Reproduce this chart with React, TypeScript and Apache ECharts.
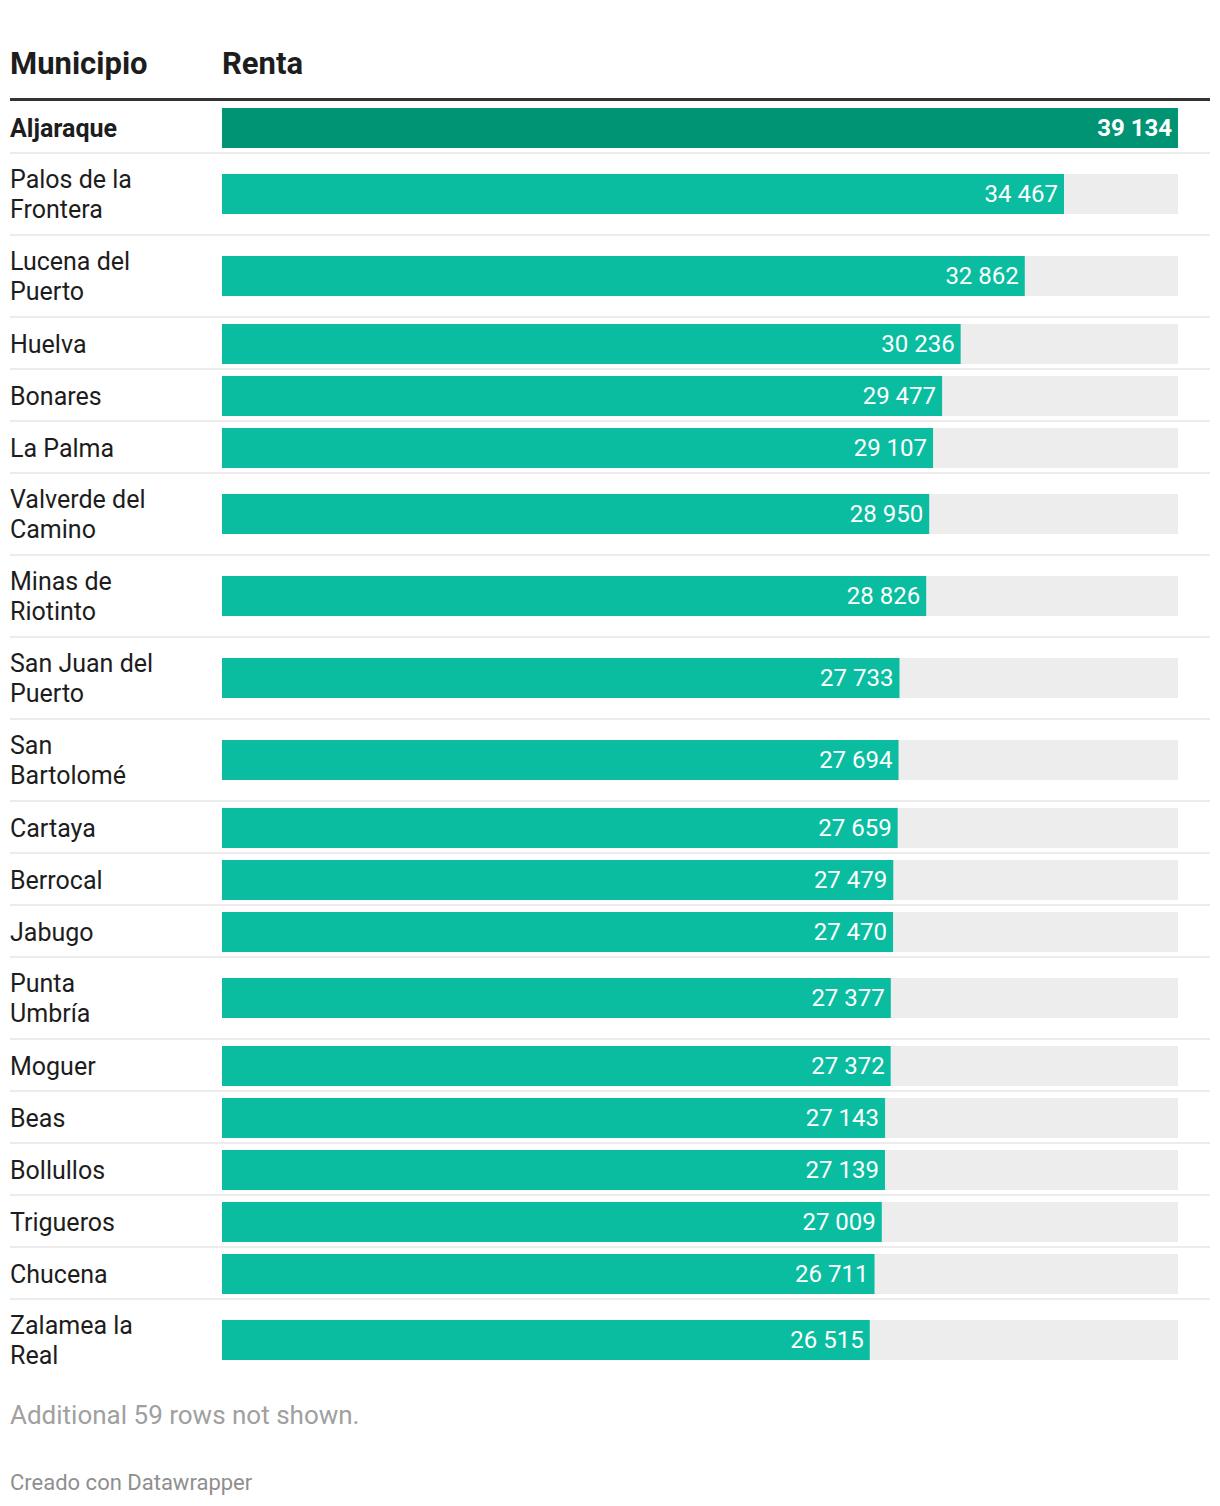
import React, { useEffect, useRef } from "react";
import * as echarts from "echarts";

const headers = ["Municipio", "Renta"];
const municipios = [
  "Aljaraque",
  "Palos de la\nFrontera",
  "Lucena del\nPuerto",
  "Huelva",
  "Bonares",
  "La Palma",
  "Valverde del\nCamino",
  "Minas de\nRiotinto",
  "San Juan del\nPuerto",
  "San\nBartolomé",
  "Cartaya",
  "Berrocal",
  "Jabugo",
  "Punta\nUmbría",
  "Moguer",
  "Beas",
  "Bollullos",
  "Trigueros",
  "Chucena",
  "Zalamea la\nReal",
];
const renta = [
  39134, 34467, 32862, 30236, 29477, 29107, 28950, 28826, 27733, 27694, 27659,
  27479, 27470, 27377, 27372, 27143, 27139, 27009, 26711, 26515,
];
const highlighted = "Aljaraque";
const noteText = "Additional 59 rows not shown.";
const creditText = "Creado con Datawrapper";

const FONT = "Roboto, 'Noto Sans', sans-serif";

function fmt(v: number): string {
  return String(v).replace(/\B(?=(\d{3})+(?!\d))/g, " ");
}

export default function App() {
  const ref = useRef<HTMLDivElement>(null);

  useEffect(() => {
    if (!ref.current) return;
    const chart = echarts.init(ref.current, undefined, { renderer: "svg" });

    const W = 1220;
    const left = 222;
    const right = 42;
    const barH = 40;
    const maxVal = Math.max(...renta);

    const grids: any[] = [];
    const xAxes: any[] = [];
    const yAxes: any[] = [];
    const series: any[] = [];
    const graphics: any[] = [];

    // header
    graphics.push({
      type: "text",
      x: 10,
      y: 63,
      style: {
        text: headers[0],
        font: `bold 31px ${FONT}`,
        fill: "#1d1d1d",
        verticalAlign: "middle",
      },
    });
    graphics.push({
      type: "text",
      x: 222,
      y: 63,
      style: {
        text: headers[1],
        font: `bold 31px ${FONT}`,
        fill: "#1d1d1d",
        verticalAlign: "middle",
      },
    });
    graphics.push({
      type: "rect",
      shape: { x: 10, y: 98, width: W - 20, height: 3 },
      style: { fill: "#333333" },
    });

    let S = 102;
    municipios.forEach((name, i) => {
      const lines = name.split("\n").length;
      const rowH = lines === 1 ? 52 : 82;
      const barTop = lines === 1 ? S + 6 : S + 20;
      const hl = name === highlighted;
      grids.push({ left, right, top: barTop, height: barH, containLabel: false });
      xAxes.push({
        type: "value",
        gridIndex: i,
        min: 0,
        max: maxVal,
        show: false,
      });
      yAxes.push({
        type: "category",
        gridIndex: i,
        data: [name],
        axisLine: { show: false },
        axisTick: { show: false },
        axisLabel: {
          align: "left",
          margin: left - 10,
          fontSize: 25,
          lineHeight: 30,
          fontFamily: FONT,
          fontWeight: hl ? "bold" : "normal",
          color: "#1d1d1d",
        },
      });
      series.push({
        type: "bar",
        xAxisIndex: i,
        yAxisIndex: i,
        data: [renta[i]],
        barWidth: barH,
        showBackground: true,
        backgroundStyle: { color: "#ededed" },
        itemStyle: { color: hl ? "#009475" : "#0abda0" },
        label: {
          show: true,
          position: "insideRight",
          distance: 6,
          formatter: (p: any) => fmt(p.value),
          color: "#ffffff",
          fontSize: 24,
          fontFamily: FONT,
          fontWeight: hl ? "bold" : "normal",
        },
      });
      if (i < municipios.length - 1) {
        graphics.push({
          type: "rect",
          shape: { x: 10, y: S + rowH - 2, width: W - 20, height: 2 },
          style: { fill: "#ececec" },
        });
      }
      S += rowH;
    });

    graphics.push({
      type: "text",
      x: 10,
      y: 1415,
      style: {
        text: noteText,
        font: `26px ${FONT}`,
        fill: "#a0a0a0",
        verticalAlign: "middle",
      },
    });
    graphics.push({
      type: "text",
      x: 10,
      y: 1482,
      style: {
        text: creditText,
        font: `22px ${FONT}`,
        fill: "#8f8f8f",
        verticalAlign: "middle",
      },
    });

    chart.setOption({
      animation: false,
      grid: grids,
      xAxis: xAxes,
      yAxis: yAxes,
      series,
      graphic: graphics,
    });

    return () => chart.dispose();
  }, []);

  return (
    <div
      ref={ref}
      style={{ position: "absolute", left: 0, top: 0, width: 1220, height: 1506, background: "#fff" }}
    />
  );
}
